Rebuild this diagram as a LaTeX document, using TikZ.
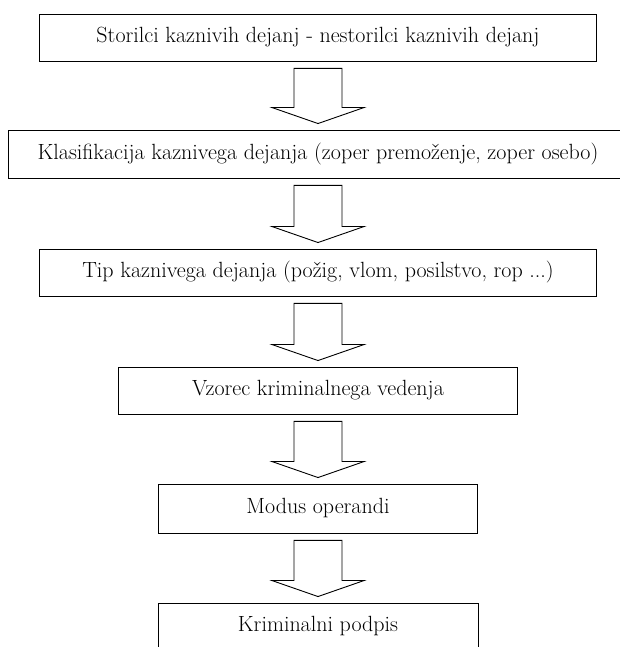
\documentclass[tikz,border=0pt]{standalone}
\usepackage{fontspec}
\usepackage{tikz}
\usetikzlibrary{calc}

\newcommand{\blockarrow}[2]{%
	\draw[fill=white] ($(#1.south)+(-24,-7)$) -- ($(#1.south)+(24,-7)$) -- ($(#2.north)+(24,22)$) -- ($(#2.north)+(46,22)$) -- ($(#2.north)+(0,6)$) -- ($(#2.north)+(-46,22)$) -- ($(#2.north)+(-24,22)$) -- cycle;}

\begin{document}
\begin{tikzpicture}[x=1pt,y=1pt,line width=0.9pt,
	every node/.style={draw,rectangle,inner sep=0pt,minimum height=47pt,font=\fontsize{22}{26}\selectfont}]

	\useasboundingbox (0,0) rectangle (619,647);

	\node[minimum width=557pt] (stor) at (318,609.5) {Storilci kaznivih dejanj - nestorilci kaznivih dejanj};
	\node[minimum width=620pt,minimum height=48pt] (klas) at (318,493) {Klasifikacija kaznivega dejanja (zoper premoženje, zoper osebo)};
	\node[minimum width=557pt] (tip) at (318,374.5) {Tip kaznivega dejanja (požig, vlom, posilstvo, rop ...)};
	\node[minimum width=399pt] (vzorec) at (318,256.5) {Vzorec kriminalnega vedenja};
	\node[minimum width=319pt,minimum height=49pt] (modus) at (318,138.5) {Modus operandi};
	\node[minimum width=320pt] (podpis) at (318,20.5) {Kriminalni podpis};

	\blockarrow{stor}{klas}
	\blockarrow{klas}{tip}
	\blockarrow{tip}{vzorec}
	\blockarrow{vzorec}{modus}
	\blockarrow{modus}{podpis}

\end{tikzpicture}
\end{document}
